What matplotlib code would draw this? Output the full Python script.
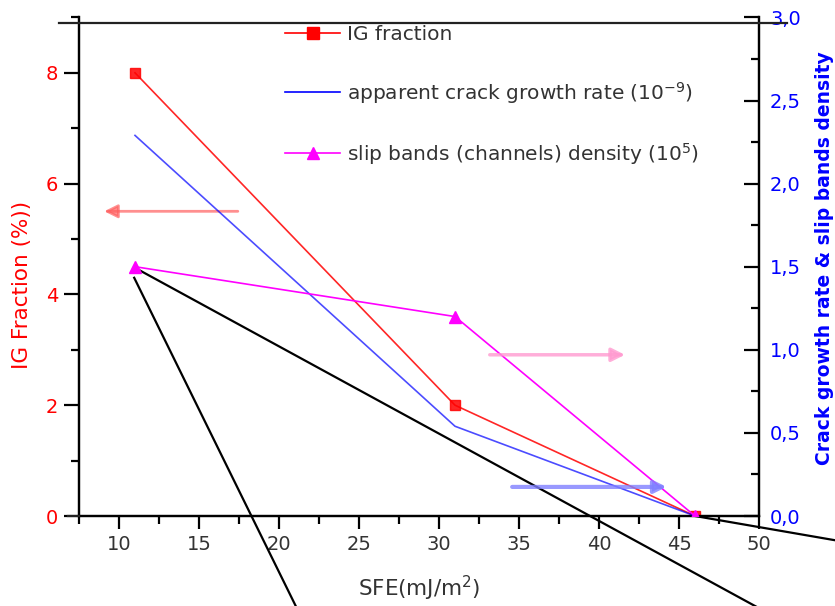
import matplotlib
matplotlib.use("Agg")
import matplotlib.pyplot as plt
from matplotlib.ticker import FuncFormatter, MultipleLocator
from matplotlib.lines import Line2D

plt.rcParams['font.family'] = ['DejaVu Sans']

# Data
sfe = [11, 31, 46]
ig_fraction = [8.0, 2.0, 0.0]
crack_rate = [2.29, 0.54, 0.0]
slip_density = [1.5, 1.2, 0.0]

labels = ["IG fraction", r"apparent crack growth rate (10$^{-9}$)",
          r"slip bands (channels) density (10$^{5}$)"]

RED = "#ff0000"
BLUE = "#0000ff"
MAG = "#ff00ff"
GRAY = "#333333"

fig = plt.figure(figsize=(8.35, 6.06), dpi=100)
ax = fig.add_axes([79/835, 1-516/606, (759-79)/835, (516-17.4)/606])
ax2 = ax.twinx()

ax.set_xlim(7.5, 50)
ax.set_ylim(0, 9)
ax2.set_ylim(0, 3)

ax.plot(sfe, ig_fraction, color=RED, lw=1.2, marker='s', ms=7.5, alpha=0.85, zorder=3)
ax2.plot(sfe, crack_rate, color=BLUE, lw=1.2, alpha=0.7, zorder=3)
ax2.plot(sfe, slip_density, color=MAG, lw=1.2, marker='^', ms=9, zorder=3)

# direction arrows
ax.annotate("", xy=(8.9, 5.5), xytext=(17.6, 5.5),
            arrowprops=dict(arrowstyle="-|>", color="#ff6060", lw=2, alpha=0.7,
                            mutation_scale=20))
ax2.annotate("", xy=(41.8, 0.97), xytext=(33.0, 0.97),
             arrowprops=dict(arrowstyle="-|>", color="#ff9ad0", lw=2.5, alpha=0.8,
                             mutation_scale=20))
ax2.annotate("", xy=(44.4, 0.175), xytext=(34.4, 0.175),
             arrowprops=dict(arrowstyle="-|>", color="#8080ff", lw=3, alpha=0.8,
                             mutation_scale=18))

# black annotation lines (leaving the plot)
for xs, ys in [([11.0, 51.5], [4.48, -1.9]),
               ([10.95, 21.6], [4.3, -1.95]),
               ([46.0, 56.0], [0.0, -0.5])]:
    ax.add_line(Line2D(xs, ys, color="black", lw=1.6, clip_on=False, zorder=4))

# spines / top line
ax.spines['top'].set_visible(False)
ax2.spines['top'].set_visible(False)
for a in (ax, ax2):
    for s in a.spines.values():
        s.set_linewidth(1.6)
fig.add_artist(Line2D([59/835, 787/835], [1-23.3/606, 1-23.3/606],
                      color="#222222", lw=1.6, transform=fig.transFigure))
fig.add_artist(Line2D([68/835, 79/835], [1-516/606, 1-516/606],
                      color="#222222", lw=1.6, transform=fig.transFigure))

# ticks
ax.xaxis.set_major_locator(MultipleLocator(5))
ax.xaxis.set_minor_locator(MultipleLocator(2.5))
ax.yaxis.set_major_locator(MultipleLocator(2))
ax.yaxis.set_minor_locator(MultipleLocator(1))
ax2.yaxis.set_major_locator(MultipleLocator(0.5))
ax2.yaxis.set_minor_locator(MultipleLocator(0.25))
ax.tick_params(axis='x', which='major', direction='out', length=9, width=1.6,
               labelsize=14, labelcolor=GRAY, pad=5)
ax.tick_params(axis='x', which='minor', direction='out', length=6, width=1.6)
ax.tick_params(axis='y', which='major', direction='out', length=11, width=1.6,
               labelsize=14, labelcolor=RED, pad=4)
ax.tick_params(axis='y', which='minor', direction='out', length=6, width=1.6)
ax2.tick_params(axis='y', which='major', direction='in', length=11, width=1.6,
                labelsize=14, labelcolor=BLUE, pad=8)
ax2.tick_params(axis='y', which='minor', direction='in', length=6, width=1.6)
ax2.yaxis.set_major_formatter(FuncFormatter(lambda v, p: f"{v:.1f}".replace('.', ',')))

# labels
ax.set_xlabel(r"SFE(mJ/m$^2$)", fontsize=15.5, color=GRAY, labelpad=14)
ax.set_ylabel("IG Fraction (%))", fontsize=15.5, color=RED, labelpad=10)
ax.yaxis.label.set_y((516-285)/498.6)
ax2.set_ylabel("Crack growth rate & slip bands density", fontsize=13.5,
               color=BLUE, fontweight='bold', labelpad=10)
ax2.yaxis.label.set_y((516-258)/498.6)

# legend
handles = [Line2D([], [], color=RED, lw=1.2, marker='s', ms=8),
           Line2D([], [], color=BLUE, lw=1.2),
           Line2D([], [], color=MAG, lw=1.2, marker='^', ms=9)]
leg = ax.legend(handles, labels, loc='upper left', bbox_to_anchor=(0.291, 1.0),
                frameon=False, fontsize=14.5, labelspacing=1.75, handlelength=2.75,
                handletextpad=0.35, borderaxespad=0.0)
for t in leg.get_texts():
    t.set_color(GRAY)

fig.savefig("out.png", dpi=100)
